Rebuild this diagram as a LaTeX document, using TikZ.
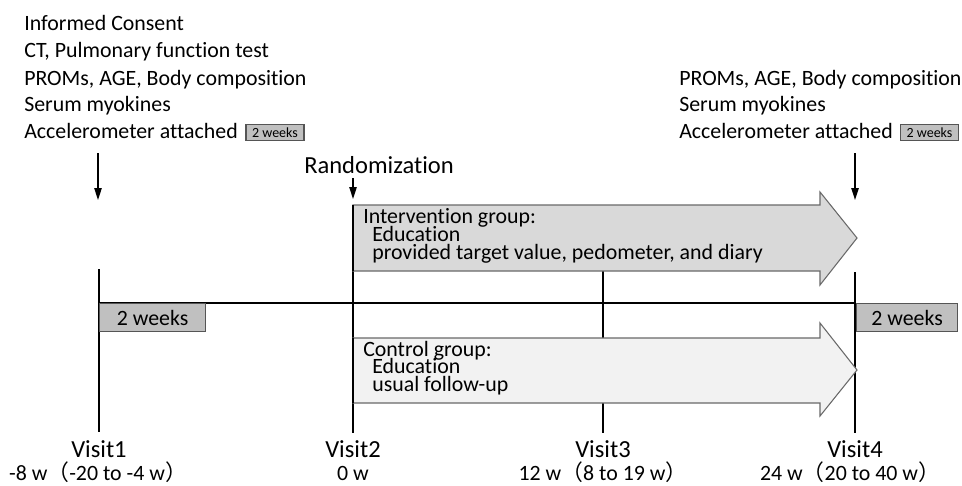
\documentclass[tikz,border=0pt]{standalone}
\usepackage{fontspec}
\setmainfont{Carlito}[Ligatures=CommonOff]
\newfontfamily\cjk{Noto Sans CJK JP}
\usetikzlibrary{arrows.meta,positioning}
\newcommand{\lpar}{{\cjk （}}
\newcommand{\rpar}{{\cjk ）}}

\begin{document}
\begin{tikzpicture}[x=0.75pt,y=0.75pt,yscale=-1,xscale=1,
    every node/.style={font=\fontsize{16.4}{20}\selectfont,inner sep=0pt},
    txt/.style={anchor=base west},
    lbl/.style={anchor=base},
    bigtxt/.style={font=\fontsize{18.4}{22}\selectfont},
    visitline/.style={line width=1.5pt},
    downarrow/.style={line width=1.2pt,-{Triangle[length=9pt,width=5.5pt]}},
    grouparrow/.style={draw={rgb, 255:red, 105; green, 105; blue, 105},line width=0.8pt},
    weekbox/.style={draw={rgb, 255:red, 85; green, 85; blue, 85},fill={rgb, 255:red, 192; green, 192; blue, 192},line width=0.8pt},
    smallweek/.style={weekbox,font=\fontsize{10.5}{11}\selectfont,minimum width=43.5pt,minimum height=12.5pt}]
    \useasboundingbox (0,0) rectangle (962,485);

    % Coordinates on the time line
    \coordinate (v1top) at (99,269);   \coordinate (v1) at (99,303);   \coordinate (v1bot) at (99,432);
    \coordinate (v2top) at (353,205);  \coordinate (v2) at (353,303);  \coordinate (v2bot) at (353,433);
    \coordinate (v3top) at (603,271);  \coordinate (v3) at (603,303);  \coordinate (v3bot) at (603,433);
    \coordinate (v4top) at (855,272);  \coordinate (v4) at (855,303);  \coordinate (v4bot) at (855,433);

    %Straight Lines
    \draw [visitline] (v1) -- (v4) ;
    \draw [visitline] (v1top) -- (v1bot) ;
    \draw [visitline] (v2top) -- (v2bot) ;
    \draw [visitline] (v3top) -- (v3bot) ;
    \draw [visitline] (v4top) -- (v4bot) ;

    %Shape: Right Arrow (intervention)
    \draw [grouparrow,fill={rgb, 255:red, 217; green, 217; blue, 217 }] (353,205) -- (820,205) -- (820,192) -- (857,238) -- (820,285) -- (820,271) -- (353,271) -- cycle ;
    %Shape: Right Arrow (control)
    \draw [grouparrow,fill={rgb, 255:red, 242; green, 242; blue, 242 }] (353,338) -- (820,338) -- (820,323) -- (857,370) -- (820,416) -- (820,403) -- (353,403) -- cycle ;
    \draw [visitline] (353,205) -- (353,271) (353,338) -- (353,403) ;

    %Shape: Rectangle (2 weeks)
    \node [weekbox,anchor=north west,minimum width=79.5pt,minimum height=21pt] (wk1) at (99,303) {2 weeks};
    \node [weekbox,anchor=north west,minimum width=75.75pt,minimum height=21pt] (wk4) at (856,303) {2 weeks};

    % Text Node
    \node [txt] (consent) at (24,31) {Informed Consent};
    \node [txt] (ct) at (24,58) {CT, Pulmonary function test};
    \node [txt] (proms1) at (24,85) {PROMs, AGE, Body composition};
    \node [txt] (serum1) at (24,111) {Serum myokines};
    \node [txt] (acc1) at (24,138) {Accelerometer attached};
    \node [smallweek] (swk1) at (275,132.5) {2 weeks};
    % Text Node
    \node [txt] (proms4) at (679,85) {PROMs, AGE, Body composition};
    \node [txt] (serum4) at (679,111) {Serum myokines};
    \node [txt] (acc4) at (679,138) {Accelerometer attached};
    \node [smallweek] (swk4) at (929.5,132.5) {2 weeks};
    % Text Node
    \node [txt,bigtxt] (random) at (304,173) {Randomization};

    %Arrows down
    \coordinate (a1) at (98,153);  \coordinate (a1end) at (98,200);
    \coordinate (a2) at (353,178); \coordinate (a2end) at (353,199);
    \coordinate (a4) at (855,153); \coordinate (a4end) at (855,200);
    \draw [downarrow] (a1) -- (a1end) ;
    \draw [downarrow] (a2) -- (a2end) ;
    \draw [downarrow] (a4) -- (a4end) ;

    % Text Node
    \node [txt] (igroup) at (363,223) {Intervention group:};
    \node [txt] (iedu) at (372,241) {Education};
    \node [txt] (iprov) at (372,259) {provided target value, pedometer, and diary};
    \node [txt] (cgroup) at (363,356) {Control group:};
    \node [txt] (cedu) at (372,373) {Education};
    \node [txt] (cusual) at (372,391) {usual follow-up};

    % Text Node
    \node [lbl,bigtxt] (visit1) at (99,457) {Visit1};
    \node [lbl] (time1) at (98,480) {-8 w\lpar-20 to -4 w\rpar};
    \node [lbl,bigtxt] (visit2) at (353,457) {Visit2};
    \node [lbl] (time2) at (353,480) {0 w};
    \node [lbl,bigtxt] (visit3) at (603,457) {Visit3};
    \node [lbl] (time3) at (603,480) {12 w\lpar8 to 19 w\rpar};
    \node [lbl,bigtxt] (visit4) at (855,457) {Visit4};
    \node [lbl] (time4) at (850,480) {24 w\lpar20 to 40 w\rpar};

\end{tikzpicture}
\end{document}
